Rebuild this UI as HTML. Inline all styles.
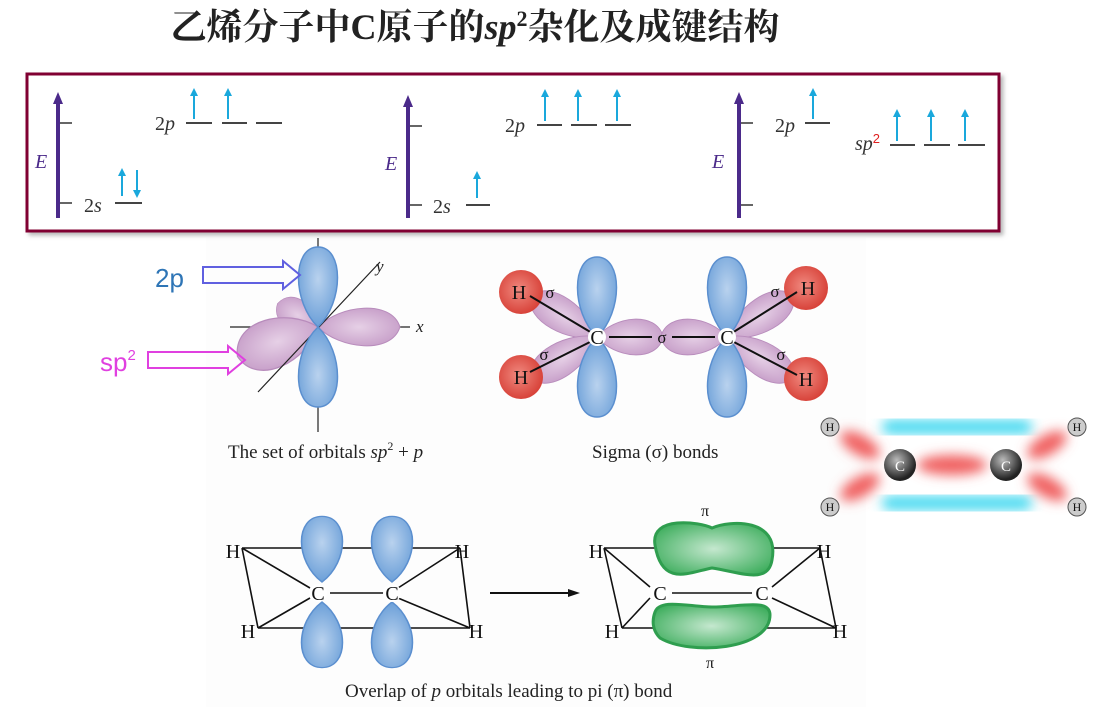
<!DOCTYPE html>
<html><head><meta charset="utf-8"><style>
html,body{margin:0;padding:0;background:#fff;}
svg{display:block;}
.serif{font-family:"Liberation Serif","Noto Serif CJK SC",serif;}
</style></head><body>
<svg width="1097" height="707" viewBox="0 0 1097 707" xmlns="http://www.w3.org/2000/svg">
<defs>
<radialGradient id="blueG" cx="50%" cy="40%" r="60%"><stop offset="0" stop-color="#b9d2ee"/><stop offset="1" stop-color="#6b9fd8"/></radialGradient>
<radialGradient id="pinkG" cx="50%" cy="50%" r="60%"><stop offset="0" stop-color="#e6d0e6"/><stop offset="1" stop-color="#c49ac6"/></radialGradient>
<radialGradient id="redG" cx="45%" cy="45%" r="55%"><stop offset="0" stop-color="#f08a80"/><stop offset="1" stop-color="#d8433a"/></radialGradient>
<radialGradient id="greenG" cx="50%" cy="50%" r="60%"><stop offset="0" stop-color="#c5e8cf"/><stop offset="1" stop-color="#3fae5e"/></radialGradient>
<radialGradient id="cG" cx="40%" cy="35%" r="60%"><stop offset="0" stop-color="#bbb"/><stop offset="1" stop-color="#222"/></radialGradient>
<filter id="blur6"><feGaussianBlur stdDeviation="6"/></filter>
<filter id="shadow"><feDropShadow dx="3" dy="3" stdDeviation="2" flood-color="#888" flood-opacity="0.6"/></filter>
<path id="lobeB" d="M0 0 C -26 -25 -26 -80 0 -80 C 26 -80 26 -25 0 0 Z" fill="url(#blueG)" stroke="#5b8fcf" stroke-width="1.5"/>
<path id="lobeP" d="M0 0 C 20 -22 70 -28 78 0 C 70 28 20 22 0 0 Z" fill="url(#pinkG)" stroke="#b88cbc" stroke-width="1"/>
<marker id="ah" markerUnits="userSpaceOnUse" markerWidth="8" markerHeight="10" refX="4" refY="5" orient="auto"><path d="M0 1 L8 5 L0 9 Z" fill="#1aa8dc"/></marker>
<marker id="ahP" markerUnits="userSpaceOnUse" markerWidth="12" markerHeight="12" refX="6" refY="6" orient="auto"><path d="M0 1 L12 6 L0 11 Z" fill="#4b2a8a"/></marker>
<marker id="ahK" markerUnits="userSpaceOnUse" markerWidth="12" markerHeight="10" refX="6" refY="5" orient="auto"><path d="M0 1 L12 5 L0 9 Z" fill="#111"/></marker>
</defs>

<text x="475" y="39" text-anchor="middle" font-size="36" font-weight="bold" fill="#222" font-family="'Liberation Serif','Noto Serif CJK SC',serif">乙烯分子中C原子的<tspan font-style="italic">sp</tspan><tspan font-size="22" dy="-13">2</tspan><tspan dy="13">杂化及成键结构</tspan></text>

<rect x="206" y="238" width="660" height="469" fill="#fdfdfd"/>

<g>
<rect x="27" y="74" width="972" height="157" fill="#fff" stroke="#800030" stroke-width="3" filter="url(#shadow)"/>
<g class="serif" font-size="20" font-style="italic" fill="#333">
<g>
<line x1="58" y1="218" x2="58" y2="98" stroke="#4b2a8a" stroke-width="4" marker-end="url(#ahP)"/>
<line x1="60" y1="123" x2="72" y2="123" stroke="#666" stroke-width="2"/><line x1="60" y1="203" x2="72" y2="203" stroke="#666" stroke-width="2"/>
<text x="35" y="168" fill="#4b2a8a">E</text>
<text x="84" y="212" font-style="normal">2<tspan font-style="italic">s</tspan></text>
<line x1="115" y1="203" x2="142" y2="203" stroke="#444" stroke-width="2"/>
<line x1="122" y1="196" x2="122" y2="172" stroke="#1aa8dc" stroke-width="2" marker-end="url(#ah)"/>
<line x1="137" y1="170" x2="137" y2="194" stroke="#1aa8dc" stroke-width="2" marker-end="url(#ah)"/>
<text x="155" y="130" font-style="normal">2<tspan font-style="italic">p</tspan></text>
<path d="M186 123h26M222 123h25M256 123h26" stroke="#444" stroke-width="2"/>
<line x1="194" y1="119" x2="194" y2="92" stroke="#1aa8dc" stroke-width="2" marker-end="url(#ah)"/>
<line x1="228" y1="119" x2="228" y2="92" stroke="#1aa8dc" stroke-width="2" marker-end="url(#ah)"/>
</g>
<g>
<line x1="408" y1="218" x2="408" y2="101" stroke="#4b2a8a" stroke-width="4" marker-end="url(#ahP)"/>
<line x1="410" y1="126" x2="422" y2="126" stroke="#666" stroke-width="2"/><line x1="410" y1="205" x2="422" y2="205" stroke="#666" stroke-width="2"/>
<text x="385" y="170" fill="#4b2a8a">E</text>
<text x="433" y="213" font-style="normal">2<tspan font-style="italic">s</tspan></text>
<line x1="466" y1="205" x2="490" y2="205" stroke="#444" stroke-width="2"/>
<line x1="477" y1="198" x2="477" y2="175" stroke="#1aa8dc" stroke-width="2" marker-end="url(#ah)"/>
<text x="505" y="132" font-style="normal">2<tspan font-style="italic">p</tspan></text>
<path d="M537 125h25M571 125h26M605 125h26" stroke="#444" stroke-width="2"/>
<line x1="545" y1="121" x2="545" y2="93" stroke="#1aa8dc" stroke-width="2" marker-end="url(#ah)"/>
<line x1="578" y1="121" x2="578" y2="93" stroke="#1aa8dc" stroke-width="2" marker-end="url(#ah)"/>
<line x1="617" y1="121" x2="617" y2="93" stroke="#1aa8dc" stroke-width="2" marker-end="url(#ah)"/>
</g>
<g>
<line x1="739" y1="218" x2="739" y2="98" stroke="#4b2a8a" stroke-width="4" marker-end="url(#ahP)"/>
<line x1="741" y1="123" x2="753" y2="123" stroke="#666" stroke-width="2"/><line x1="741" y1="205" x2="753" y2="205" stroke="#666" stroke-width="2"/>
<text x="712" y="168" fill="#4b2a8a">E</text>
<text x="775" y="132" font-style="normal">2<tspan font-style="italic">p</tspan></text>
<line x1="805" y1="123" x2="830" y2="123" stroke="#444" stroke-width="2"/>
<line x1="813" y1="119" x2="813" y2="92" stroke="#1aa8dc" stroke-width="2" marker-end="url(#ah)"/>
<text x="855" y="150">sp<tspan font-style="normal" font-size="13" dy="-7" fill="#e02020" font-family="Liberation Sans,sans-serif">2</tspan></text>
<path d="M890 145h25M924 145h26M958 145h27" stroke="#444" stroke-width="2"/>
<line x1="897" y1="141" x2="897" y2="113" stroke="#1aa8dc" stroke-width="2" marker-end="url(#ah)"/>
<line x1="931" y1="141" x2="931" y2="113" stroke="#1aa8dc" stroke-width="2" marker-end="url(#ah)"/>
<line x1="965" y1="141" x2="965" y2="113" stroke="#1aa8dc" stroke-width="2" marker-end="url(#ah)"/>
</g>
</g>
</g>

<g>
<line x1="318" y1="238" x2="318" y2="432" stroke="#222" stroke-width="1.2"/>
<line x1="230" y1="327" x2="410" y2="327" stroke="#222" stroke-width="1.2"/>
<g transform="translate(318 327) rotate(-150)"><use href="#lobeP" transform="scale(0.6 0.8)"/></g>
<g transform="translate(318 327)"><use href="#lobeP" transform="scale(1.05 1)"/></g>
<g transform="translate(318 327) rotate(160)"><use href="#lobeP" transform="scale(1.1 1.3)"/></g>
<line x1="258" y1="392" x2="380" y2="262" stroke="#222" stroke-width="1.2"/>
<use href="#lobeB" transform="translate(318 327)"/>
<use href="#lobeB" transform="translate(318 327) rotate(180)"/>
<text x="416" y="332" class="serif" font-style="italic" font-size="17" fill="#222">x</text>
<text x="376" y="272" class="serif" font-style="italic" font-size="17" fill="#222">y</text>
<text x="228" y="458" class="serif" font-size="19" fill="#222">The set of orbitals <tspan font-style="italic">sp</tspan><tspan font-size="12" dy="-8">2</tspan><tspan dy="8"> + </tspan><tspan font-style="italic">p</tspan></text>
</g>

<g>
<text x="155" y="287" font-family="Liberation Sans,sans-serif" font-size="26" fill="#2e75b6">2p</text>
<path d="M203 267 H283 V261 L300 275 L283 289 V283 H203 Z" fill="none" stroke="#6060e0" stroke-width="2"/>
<text x="100" y="371" font-family="Liberation Sans,sans-serif" font-size="26" fill="#e040e0">sp<tspan font-size="15" dy="-11">2</tspan></text>
<path d="M148 352 H228 V346 L245 360 L228 374 V368 H148 Z" fill="none" stroke="#e040e0" stroke-width="2"/>
</g>

<g>
<g transform="translate(597 337)">
<use href="#lobeP" transform="rotate(-148) scale(1 0.9)"/><use href="#lobeP" transform="rotate(148) scale(1 0.9)"/><use href="#lobeP" transform="scale(0.85 0.95)"/>
<use href="#lobeB"/><use href="#lobeB" transform="rotate(180)"/>
</g>
<g transform="translate(727 337)">
<use href="#lobeP" transform="rotate(-32) scale(1 0.9)"/><use href="#lobeP" transform="rotate(32) scale(1 0.9)"/><use href="#lobeP" transform="rotate(180) scale(0.85 0.95)"/>
<use href="#lobeB"/><use href="#lobeB" transform="rotate(180)"/>
</g>
<circle cx="521" cy="292" r="22" fill="url(#redG)"/><circle cx="521" cy="377" r="22" fill="url(#redG)"/>
<circle cx="806" cy="288" r="22" fill="url(#redG)"/><circle cx="806" cy="379" r="22" fill="url(#redG)"/>
<path d="M530 296 L592 333 M530 372 L592 341 M609 337 H652 M672 337 H715 M732 333 L797 292 M732 341 L797 375" stroke="#111" stroke-width="2"/>
<circle cx="597" cy="337" r="9" fill="#fff"/><circle cx="727" cy="337" r="9" fill="#fff"/>
<g class="serif" font-size="20" fill="#111" text-anchor="middle">
<text x="597" y="344">C</text><text x="727" y="344">C</text>
<text x="519" y="299">H</text><text x="521" y="384">H</text><text x="808" y="295">H</text><text x="806" y="386">H</text>
<text x="550" y="298" font-size="17">σ</text><text x="544" y="360" font-size="17">σ</text>
<text x="662" y="343" font-size="17">σ</text><text x="775" y="297" font-size="17">σ</text><text x="781" y="360" font-size="17">σ</text>
</g>
<text x="592" y="458" class="serif" font-size="19" fill="#222">Sigma (σ) bonds</text>
</g>

<g>
<rect x="882" y="420" width="150" height="14" rx="7" fill="#40d8f0" filter="url(#blur6)"/>
<rect x="882" y="496" width="150" height="14" rx="7" fill="#40d8f0" filter="url(#blur6)"/>
<g fill="#f06060" filter="url(#blur6)">
<ellipse cx="952" cy="465" rx="35" ry="10"/>
<ellipse cx="860" cy="445" rx="22" ry="10" transform="rotate(30 860 445)"/><ellipse cx="860" cy="487" rx="22" ry="10" transform="rotate(-30 860 487)"/>
<ellipse cx="1047" cy="445" rx="22" ry="10" transform="rotate(-30 1047 445)"/><ellipse cx="1047" cy="487" rx="22" ry="10" transform="rotate(30 1047 487)"/>
</g>
<circle cx="900" cy="465" r="16" fill="url(#cG)"/><circle cx="1006" cy="465" r="16" fill="url(#cG)"/>
<text x="900" y="471" text-anchor="middle" font-family="Liberation Serif,serif" font-size="15" fill="#fff">C</text>
<text x="1006" y="471" text-anchor="middle" font-family="Liberation Serif,serif" font-size="15" fill="#fff">C</text>
<g font-family="Liberation Serif,serif" font-size="12" text-anchor="middle" fill="#111">
<circle cx="830" cy="427" r="9" fill="#ccc" stroke="#555"/><text x="830" y="431">H</text>
<circle cx="830" cy="507" r="9" fill="#ccc" stroke="#555"/><text x="830" y="511">H</text>
<circle cx="1077" cy="427" r="9" fill="#ccc" stroke="#555"/><text x="1077" y="431">H</text>
<circle cx="1077" cy="507" r="9" fill="#ccc" stroke="#555"/><text x="1077" y="511">H</text>
</g>
</g>

<g>
<path d="M242 548 H460 M258 628 H470 M242 548 L258 628 M460 548 L470 628 M242 548 L310 588 M258 628 L310 598 M398 588 L460 548 M398 598 L470 628 M330 593 H385" stroke="#111" stroke-width="1.6" fill="none"/>
<use href="#lobeB" transform="translate(322 582) scale(1.05 0.82)"/><use href="#lobeB" transform="translate(322 602) rotate(180) scale(1.05 0.82)"/>
<use href="#lobeB" transform="translate(392 582) scale(1.05 0.82)"/><use href="#lobeB" transform="translate(392 602) rotate(180) scale(1.05 0.82)"/>
<circle cx="318" cy="593" r="9" fill="#fff"/><circle cx="392" cy="593" r="9" fill="#fff"/>
<g class="serif" font-size="20" fill="#111" text-anchor="middle">
<text x="318" y="600">C</text><text x="392" y="600">C</text>
<text x="233" y="558">H</text><text x="462" y="558">H</text><text x="248" y="638">H</text><text x="476" y="638">H</text>
</g>
</g>
<line x1="490" y1="593" x2="574" y2="593" stroke="#111" stroke-width="2" marker-end="url(#ahK)"/>
<g>
<path d="M604 548 H820 M622 628 H836 M604 548 L650 587 M622 628 L650 598 M604 548 L622 628 M820 548 L836 628 M772 587 L820 548 M772 598 L836 628 M672 593 H752" stroke="#111" stroke-width="1.6" fill="none"/>
<path d="M655 545 C 650 515, 700 522, 712 528 C 730 520, 780 518, 772 560 C 768 585, 740 572, 712 568 C 690 572, 662 588, 655 545 Z" fill="url(#greenG)" stroke="#2f9e4f" stroke-width="3"/>
<path d="M655 612 C 660 598, 690 607, 712 607 C 740 607, 770 598, 770 615 C 770 650, 690 656, 660 638 C 652 630, 652 620, 655 612 Z" fill="url(#greenG)" stroke="#2f9e4f" stroke-width="3"/>
<circle cx="660" cy="593" r="9" fill="#fff"/><circle cx="762" cy="593" r="9" fill="#fff"/>
<g class="serif" font-size="20" fill="#111" text-anchor="middle">
<text x="660" y="600">C</text><text x="762" y="600">C</text>
<text x="596" y="558">H</text><text x="824" y="558">H</text><text x="612" y="638">H</text><text x="840" y="638">H</text>
<text x="705" y="516" font-size="16">π</text><text x="710" y="668" font-size="16">π</text>
</g>
</g>
<text x="345" y="697" class="serif" font-size="19" fill="#222">Overlap of <tspan font-style="italic">p</tspan> orbitals leading to pi (π) bond</text>
</svg>
</body></html>
